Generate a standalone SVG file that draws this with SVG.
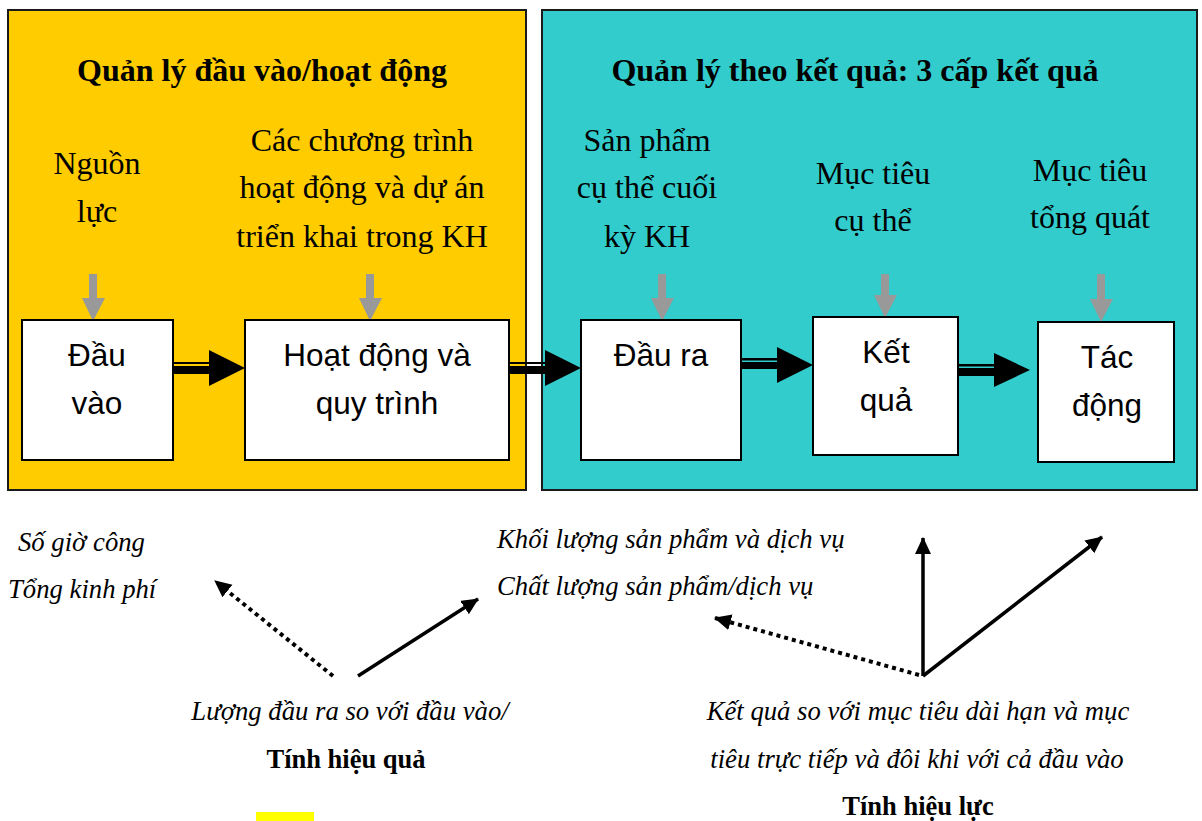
<svg xmlns="http://www.w3.org/2000/svg" width="1202" height="821" viewBox="0 0 1202 821">
<style>
.panel{stroke:#1a1a1a;stroke-width:2}
.box{fill:#fff;stroke:#000;stroke-width:2}
.ttl{font-family:"Liberation Serif",serif;font-weight:bold;font-size:32px;text-anchor:middle;fill:#000}
.lbl{font-family:"Liberation Serif",serif;font-size:32px;text-anchor:middle;fill:#000}
.bx{font-family:"Liberation Sans",Arial,sans-serif;font-size:31.5px;text-anchor:middle;fill:#000}
.it{font-family:"Liberation Serif",serif;font-style:italic;font-size:26.7px;fill:#000}
.bd{font-family:"Liberation Serif",serif;font-weight:bold;font-size:26.5px;text-anchor:middle;fill:#000}
.gray{fill:#999}
.blk{fill:#000}
.ln{stroke:#000;stroke-width:3.5;fill:none;marker-end:url(#ah)}
.dot{stroke:#000;stroke-width:4;fill:none;stroke-dasharray:4 4;marker-end:url(#ah)}
</style>
<defs>
<marker id="ah" markerUnits="userSpaceOnUse" markerWidth="20" markerHeight="20" refX="16" refY="8" orient="auto">
<path d="M0,0 L17,8 L0,16 Z" fill="#000"/>
</marker>
</defs>

<g id="panel-left">
<rect class="panel" x="8" y="10" width="518" height="480" fill="#FFCC00"/>
<text class="ttl" x="262" y="81">Quản lý đầu vào/hoạt động</text>
</g>
<g id="panel-right">
<rect class="panel" x="542" y="10" width="655" height="480" fill="#33CCCC"/>
<text class="ttl" x="855" y="81">Quản lý theo kết quả: 3 cấp kết quả</text>
</g>

<g id="label-nguonluc">
<text class="lbl" x="97" y="174">Nguồn</text>
<text class="lbl" x="97" y="222">lực</text>
</g>
<g id="label-chuongtrinh">
<text class="lbl" x="362" y="151">Các chương trình</text>
<text class="lbl" x="362" y="198">hoạt động và dự án</text>
<text class="lbl" x="362" y="247">triển khai trong KH</text>
</g>
<g id="label-sanpham">
<text class="lbl" x="647" y="151">Sản phẩm</text>
<text class="lbl" x="647" y="198">cụ thể cuối</text>
<text class="lbl" x="647" y="247">kỳ KH</text>
</g>
<g id="label-muctieucuthe">
<text class="lbl" x="873" y="184">Mục tiêu</text>
<text class="lbl" x="873" y="231">cụ thể</text>
</g>
<g id="label-muctieutongquat">
<text class="lbl" x="1090" y="181">Mục tiêu</text>
<text class="lbl" x="1090" y="228">tổng quát</text>
</g>

<g id="gray-arrows">
<path class="gray" d="M89,274 H97 V298 H105 L93,321 L82,298 H89 Z"/>
<path class="gray" d="M366,274 H374 V298 H382 L370,321 L359,298 H366 Z"/>
<path class="gray" d="M658,274 H666 V298 H674 L662,321 L651,298 H658 Z"/>
<path class="gray" d="M881,274 H889 V295 H897 L885,318 L874,295 H881 Z"/>
<path class="gray" d="M1097,274 H1105 V299 H1113 L1101,322 L1090,299 H1097 Z"/>
</g>

<g id="node-dauvao">
<rect class="box" x="22" y="320" width="151" height="140"/>
<text class="bx" x="97" y="366">Đầu</text>
<text class="bx" x="97" y="414">vào</text>
</g>
<g id="node-hoatdong">
<rect class="box" x="245" y="320" width="264" height="140"/>
<text class="bx" x="377" y="366">Hoạt động và</text>
<text class="bx" x="377" y="414">quy trình</text>
</g>
<g id="node-daura">
<rect class="box" x="581" y="320" width="160" height="140"/>
<text class="bx" x="661" y="366">Đầu ra</text>
</g>
<g id="node-ketqua">
<rect class="box" x="813" y="317" width="145" height="138"/>
<text class="bx" x="886" y="363">Kết</text>
<text class="bx" x="886" y="411">quả</text>
</g>
<g id="node-tacdong">
<rect class="box" x="1038" y="322" width="136" height="140"/>
<text class="bx" x="1107" y="368">Tác</text>
<text class="bx" x="1107" y="416">động</text>
</g>

<g id="connectors">
<rect class="blk" x="173" y="362" width="37" height="2"/>
<rect class="blk" x="173" y="366" width="37" height="8"/>
<path class="blk" d="M209,350 L245,368 L209,386 Z"/>

<rect class="blk" x="509" y="362" width="37" height="2"/>
<rect class="blk" x="509" y="366" width="37" height="8"/>
<path class="blk" d="M545,350 L581,368 L545,386 Z"/>

<rect class="blk" x="741" y="358" width="37" height="2.5"/>
<rect class="blk" x="741" y="362" width="37" height="7"/>
<path class="blk" d="M777,347 L813,365 L777,383 Z"/>

<rect class="blk" x="958" y="364" width="37" height="2.5"/>
<rect class="blk" x="958" y="368" width="37" height="8"/>
<path class="blk" d="M994,353 L1030,370 L994,387 Z"/>

<line class="dot" x1="333" y1="676" x2="215" y2="581"/>
<line class="ln" x1="358" y1="676" x2="478" y2="599"/>
<line class="dot" x1="919" y1="675" x2="715" y2="618"/>
<line class="ln" x1="923" y1="676" x2="923" y2="538"/>
<line class="ln" x1="923" y1="676" x2="1102" y2="537"/>
</g>

<g id="bottom-texts">
<text class="it" x="18" y="551">Số giờ công</text>
<text class="it" x="8" y="598">Tổng kinh phí</text>
<text class="it" x="497" y="548">Khối lượng sản phẩm và dịch vụ</text>
<text class="it" x="497" y="595">Chất lượng sản phẩm/dịch vụ</text>
<text class="it" x="350" y="720" text-anchor="middle">Lượng đầu ra so với đầu vào/</text>
<text class="bd" x="346" y="768">Tính hiệu quả</text>
<text class="it" x="918" y="720" text-anchor="middle">Kết quả so với mục tiêu dài hạn và mục</text>
<text class="it" x="917" y="768" text-anchor="middle">tiêu trực tiếp và đôi khi với cả đầu vào</text>
<text class="bd" x="918" y="815">Tính hiệu lực</text>
</g>
<rect x="256" y="812" width="58" height="9" fill="#FFFF00"/>
</svg>
